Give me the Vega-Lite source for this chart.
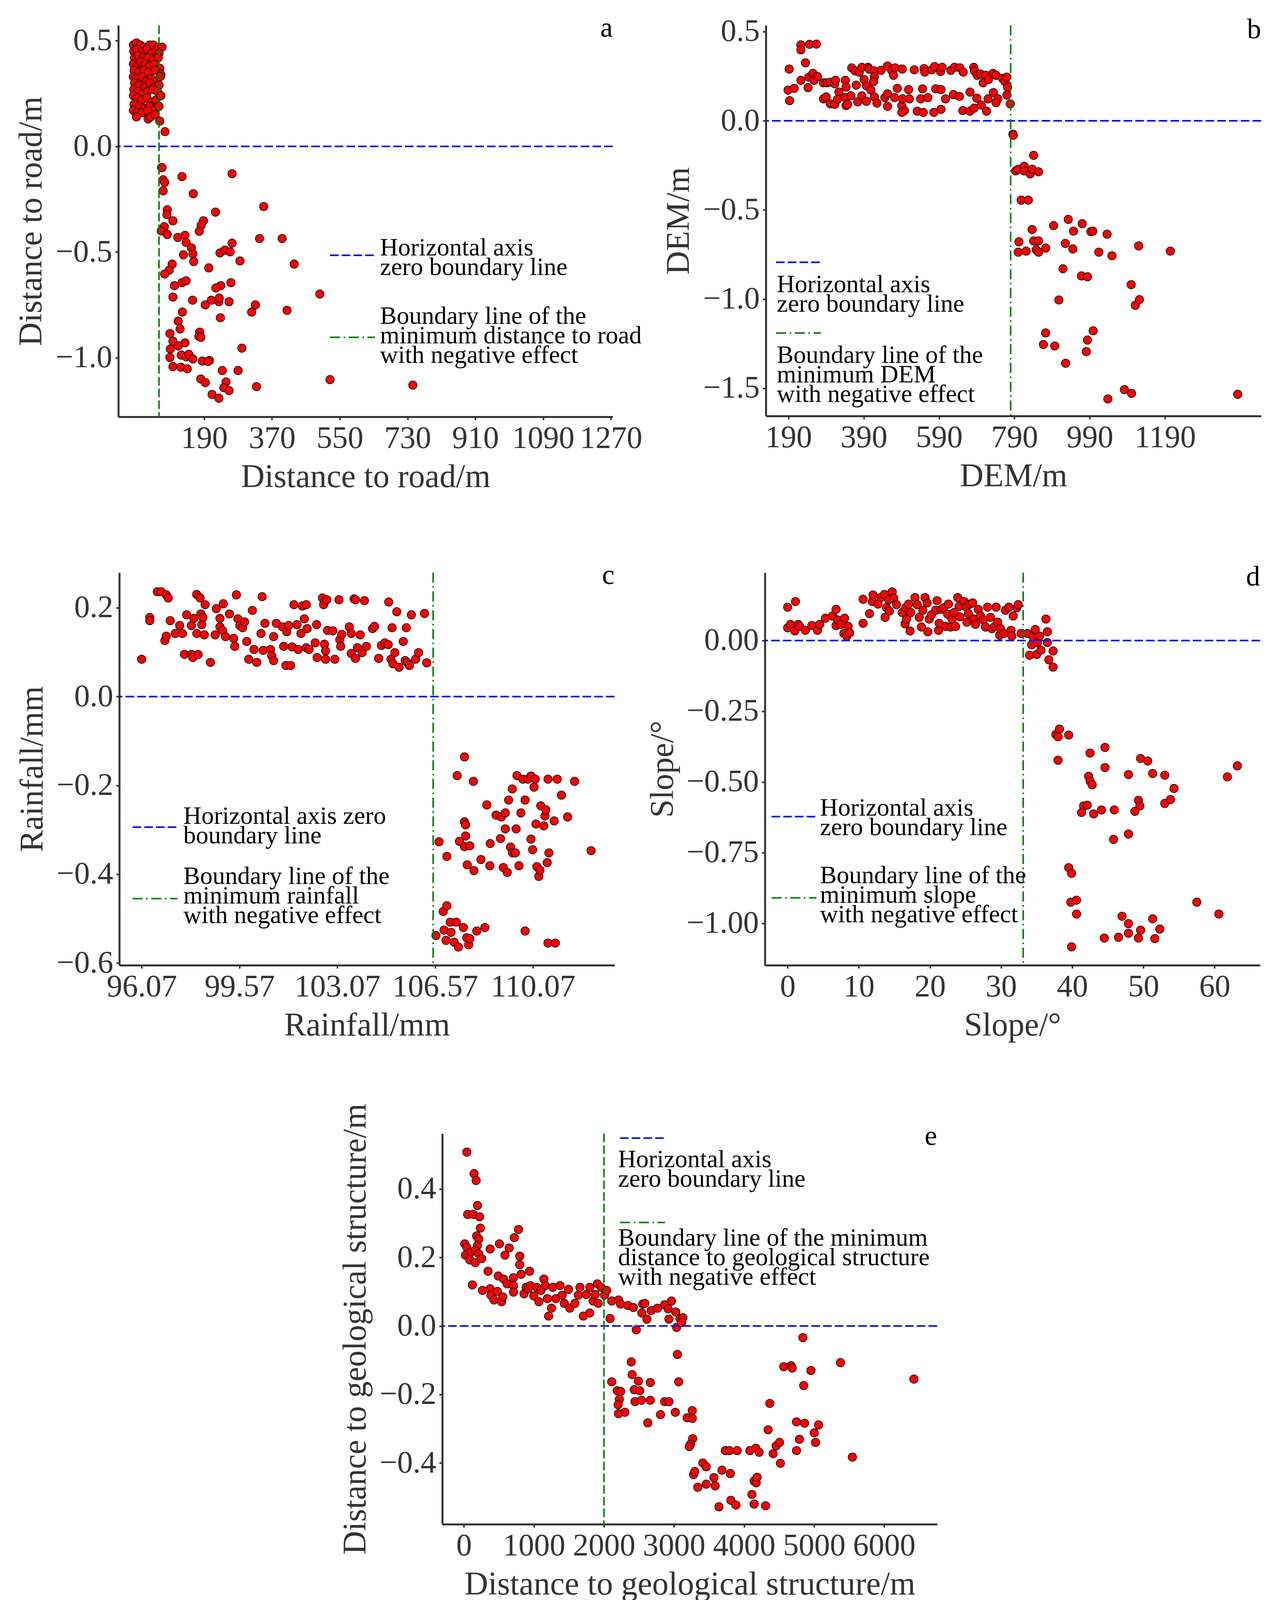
{
  "$schema": "https://vega.github.io/schema/vega-lite/v6.json",
  "background": "white",
  "padding": {"left": 38, "top": 36, "right": 0, "bottom": 0},
  "config": {
    "view": {"stroke": null},
    "font": "Liberation Serif",
    "axis": {
      "grid": false, "domainColor": "#333333", "domainWidth": 5,
      "tickColor": "#333333", "tickWidth": 4, "tickSize": 8,
      "labelFont": "Liberation Serif", "labelFontSize": 80, "labelColor": "#333333", "labelPadding": 8, "labelLimit": 0,
      "labelOverlap": false, "labelFlush": false,
      "titleFont": "Liberation Serif", "titleFontSize": 84, "titleFontWeight": "normal", "titleColor": "#333333", "titlePadding": 18
    },
    "legend": {
      "orient": "none", "padding": 0, "labelFont": "Liberation Serif", "labelFontSize": 64, "labelColor": "#000000",
      "labelLimit": 0, "symbolType": "stroke", "symbolSize": 13225, "symbolStrokeWidth": 4
    },
    "text": {"font": "Liberation Serif", "fontSize": 72, "color": "#000000", "align": "right", "baseline": "alphabetic", "dy": 29},
    "style": {"guide-label": {"lineHeight": 50}},
    "circle": {"size": 460, "fill": "#ff0000", "stroke": "#000000", "strokeWidth": 1.5, "opacity": 1},
    "rule": {"strokeWidth": 4}
  },
  "datasets": {
    "a": [
      {"x":2,"y":0.48},{"x":10,"y":0.49},{"x":20,"y":0.48},{"x":30,"y":0.47},{"x":45,"y":0.48},{"x":55,"y":0.48},{"x":66,"y":0.47},{"x":78,"y":0.47},
      {"x":3,"y":0.45},{"x":12,"y":0.46},{"x":25,"y":0.45},{"x":38,"y":0.46},{"x":50,"y":0.44},{"x":62,"y":0.45},{"x":70,"y":0.44},
      {"x":5,"y":0.42},{"x":15,"y":0.43},{"x":28,"y":0.42},{"x":40,"y":0.42},{"x":55,"y":0.41},{"x":68,"y":0.42},
      {"x":2,"y":0.39},{"x":12,"y":0.38},{"x":22,"y":0.40},{"x":33,"y":0.39},{"x":45,"y":0.38},{"x":58,"y":0.39},{"x":72,"y":0.37},
      {"x":4,"y":0.36},{"x":16,"y":0.35},{"x":30,"y":0.36},{"x":42,"y":0.35},{"x":60,"y":0.36},{"x":75,"y":0.34},
      {"x":2,"y":0.33},{"x":10,"y":0.32},{"x":25,"y":0.33},{"x":37,"y":0.31},{"x":50,"y":0.32},{"x":65,"y":0.31},{"x":73,"y":0.33},
      {"x":5,"y":0.30},{"x":18,"y":0.29},{"x":32,"y":0.28},{"x":46,"y":0.30},{"x":58,"y":0.28},{"x":70,"y":0.29},
      {"x":3,"y":0.27},{"x":14,"y":0.26},{"x":28,"y":0.25},{"x":40,"y":0.26},{"x":54,"y":0.27},{"x":66,"y":0.26},
      {"x":2,"y":0.24},{"x":12,"y":0.23},{"x":25,"y":0.22},{"x":38,"y":0.23},{"x":50,"y":0.21},{"x":62,"y":0.22},{"x":75,"y":0.24},
      {"x":4,"y":0.20},{"x":18,"y":0.19},{"x":30,"y":0.18},{"x":44,"y":0.19},{"x":57,"y":0.17},{"x":70,"y":0.19},
      {"x":2,"y":0.17},{"x":12,"y":0.16},{"x":26,"y":0.16},{"x":40,"y":0.17},
      {"x":10,"y":0.14},{"x":41,"y":0.13},{"x":48,"y":0.14},{"x":60,"y":0.15},{"x":72,"y":0.12},
      {"x":86,"y":0.07},{"x":77,"y":-0.10},
      {"x":78,"y":-0.10},{"x":81,"y":-0.158},{"x":85,"y":-0.17},{"x":81,"y":-0.21},{"x":131,"y":-0.143},{"x":161,"y":-0.224},
      {"x":264,"y":-0.129},{"x":348,"y":-0.285},{"x":220,"y":-0.311},{"x":92,"y":-0.30},{"x":91,"y":-0.323},{"x":188,"y":-0.352},
      {"x":182,"y":-0.373},{"x":177,"y":-0.402},{"x":84,"y":-0.38},{"x":76,"y":-0.40},{"x":92,"y":-0.417},{"x":107,"y":-0.352},
      {"x":120,"y":-0.431},{"x":139,"y":-0.421},{"x":142,"y":-0.455},{"x":156,"y":-0.48},{"x":160,"y":-0.509},{"x":162,"y":-0.545},
      {"x":135,"y":-0.513},{"x":264,"y":-0.458},{"x":232,"y":-0.504},{"x":245,"y":-0.491},{"x":259,"y":-0.499},{"x":285,"y":-0.542},
      {"x":337,"y":-0.436},{"x":397,"y":-0.436},{"x":429,"y":-0.557},{"x":202,"y":-0.575},{"x":105,"y":-0.557},{"x":97,"y":-0.586},
      {"x":85,"y":-0.604},{"x":111,"y":-0.659},{"x":131,"y":-0.645},{"x":142,"y":-0.636},{"x":234,"y":-0.659},{"x":261,"y":-0.645},
      {"x":221,"y":-0.67},{"x":497,"y":-0.699},{"x":107,"y":-0.713},{"x":159,"y":-0.728},{"x":193,"y":-0.75},{"x":209,"y":-0.728},
      {"x":229,"y":-0.735},{"x":256,"y":-0.735},{"x":230,"y":-0.718},{"x":326,"y":-0.75},{"x":316,"y":-0.784},{"x":410,"y":-0.776},
      {"x":132,"y":-0.784},{"x":233,"y":-0.811},{"x":121,"y":-0.827},{"x":126,"y":-0.864},{"x":99,"y":-0.886},{"x":107,"y":-0.922},
      {"x":139,"y":-0.93},{"x":178,"y":-0.879},{"x":176,"y":-0.899},{"x":181,"y":-0.904},{"x":290,"y":-0.955},{"x":121,"y":-0.944},
      {"x":100,"y":-0.959},{"x":99,"y":-0.999},{"x":129,"y":-0.988},{"x":142,"y":-0.996},{"x":149,"y":-0.984},{"x":160,"y":-1.006},
      {"x":185,"y":-1.016},{"x":204,"y":-1.013},{"x":200,"y":-1.018},{"x":107,"y":-1.042},{"x":128,"y":-1.045},{"x":145,"y":-1.053},
      {"x":238,"y":-1.061},{"x":280,"y":-1.061},{"x":181,"y":-1.101},{"x":193,"y":-1.118},{"x":248,"y":-1.115},{"x":242,"y":-1.142},
      {"x":256,"y":-1.156},{"x":211,"y":-1.174},{"x":229,"y":-1.192},{"x":329,"y":-1.137},{"x":524,"y":-1.104},{"x":744,"y":-1.13}
    ],
    "b": [
      {"x":223,"y":0.426},{"x":223,"y":0.398},{"x":246,"y":0.429},{"x":264,"y":0.43},{"x":235,"y":0.325},{"x":192,"y":0.29},
      {"x":358,"y":0.297},{"x":367,"y":0.28},{"x":378,"y":0.273},{"x":385,"y":0.30},{"x":401,"y":0.30},{"x":404,"y":0.29},
      {"x":418,"y":0.28},{"x":418,"y":0.248},{"x":436,"y":0.283},{"x":453,"y":0.307},{"x":464,"y":0.283},{"x":469,"y":0.255},
      {"x":473,"y":0.297},{"x":492,"y":0.29},{"x":524,"y":0.286},{"x":550,"y":0.293},{"x":552,"y":0.273},{"x":571,"y":0.286},
      {"x":578,"y":0.304},{"x":594,"y":0.276},{"x":598,"y":0.30},{"x":621,"y":0.283},{"x":631,"y":0.30},{"x":645,"y":0.297},
      {"x":654,"y":0.273},{"x":682,"y":0.30},{"x":684,"y":0.28},{"x":691,"y":0.255},{"x":700,"y":0.262},{"x":707,"y":0.213},
      {"x":714,"y":0.255},{"x":721,"y":0.231},{"x":733,"y":0.266},{"x":741,"y":0.255},{"x":758,"y":0.238},{"x":765,"y":0.22},
      {"x":770,"y":0.245},{"x":772,"y":0.189},{"x":770,"y":0.144},{"x":779,"y":0.095},{"x":786,"y":-0.075},
      {"x":189,"y":0.172},{"x":205,"y":0.182},{"x":193,"y":0.113},{"x":223,"y":0.227},{"x":242,"y":0.186},{"x":244,"y":0.245},
      {"x":255,"y":0.266},{"x":258,"y":0.227},{"x":267,"y":0.248},{"x":283,"y":0.213},{"x":292,"y":0.213},{"x":301,"y":0.217},
      {"x":313,"y":0.207},{"x":315,"y":0.227},{"x":341,"y":0.227},{"x":343,"y":0.189},{"x":324,"y":0.161},{"x":370,"y":0.20},
      {"x":391,"y":0.231},{"x":397,"y":0.196},{"x":409,"y":0.172},{"x":416,"y":0.22},{"x":283,"y":0.123},{"x":290,"y":0.134},
      {"x":301,"y":0.095},{"x":313,"y":0.092},{"x":320,"y":0.12},{"x":341,"y":0.13},{"x":343,"y":0.085},{"x":347,"y":0.092},
      {"x":356,"y":0.14},{"x":374,"y":0.106},{"x":385,"y":0.14},{"x":397,"y":0.109},{"x":418,"y":0.134},{"x":425,"y":0.099},
      {"x":446,"y":0.13},{"x":453,"y":0.151},{"x":453,"y":0.081},{"x":472,"y":0.13},{"x":479,"y":0.182},{"x":491,"y":0.085},
      {"x":493,"y":0.123},{"x":498,"y":0.057},{"x":491,"y":0.047},{"x":509,"y":0.175},{"x":511,"y":0.123},{"x":532,"y":0.054},
      {"x":541,"y":0.123},{"x":546,"y":0.179},{"x":548,"y":0.047},{"x":560,"y":0.13},{"x":576,"y":0.047},{"x":581,"y":0.179},
      {"x":595,"y":0.175},{"x":595,"y":0.064},{"x":607,"y":0.123},{"x":628,"y":0.147},{"x":644,"y":0.137},{"x":653,"y":0.057},
      {"x":672,"y":0.161},{"x":672,"y":0.054},{"x":683,"y":0.071},{"x":690,"y":0.127},{"x":702,"y":0.088},{"x":716,"y":0.054},
      {"x":720,"y":0.123},{"x":734,"y":0.158},{"x":746,"y":0.123},{"x":741,"y":0.102},
      {"x":787,"y":-0.081},{"x":793,"y":-0.281},{"x":800,"y":-0.272},{"x":816,"y":-0.255},{"x":816,"y":-0.281},{"x":841,"y":-0.194},
      {"x":832,"y":-0.298},{"x":837,"y":-0.272},{"x":854,"y":-0.286},{"x":808,"y":-0.445},{"x":827,"y":-0.445},{"x":837,"y":-0.61},
      {"x":841,"y":-0.674},{"x":854,"y":-0.674},{"x":802,"y":-0.679},{"x":800,"y":-0.737},{"x":821,"y":-0.731},{"x":848,"y":-0.723},
      {"x":854,"y":-0.737},{"x":873,"y":-0.714},{"x":894,"y":-0.588},{"x":933,"y":-0.553},{"x":925,"y":-0.688},{"x":945,"y":-0.719},
      {"x":947,"y":-0.619},{"x":970,"y":-0.577},{"x":993,"y":-0.622},{"x":998,"y":-0.619},{"x":1014,"y":-0.737},{"x":1036,"y":-0.636},
      {"x":1049,"y":-0.757},{"x":1120,"y":-0.702},{"x":1204,"y":-0.731},{"x":919,"y":-0.83},{"x":968,"y":-0.87},{"x":984,"y":-0.875},
      {"x":1100,"y":-0.919},{"x":908,"y":-1.005},{"x":1111,"y":-1.035},{"x":1122,"y":-1.003},{"x":873,"y":-1.19},{"x":867,"y":-1.255},
      {"x":897,"y":-1.263},{"x":999,"y":-1.178},{"x":984,"y":-1.23},{"x":981,"y":-1.295},{"x":926,"y":-1.36},{"x":1038,"y":-1.56},
      {"x":1082,"y":-1.508},{"x":1101,"y":-1.529},{"x":1383,"y":-1.534}
    ],
    "c": [
      {"x":96.07,"y":0.084},{"x":96.36,"y":0.178},{"x":96.36,"y":0.171},{"x":96.63,"y":0.236},{"x":96.77,"y":0.236},{"x":96.95,"y":0.229},
      {"x":97.02,"y":0.222},{"x":97.09,"y":0.171},{"x":96.9,"y":0.126},{"x":96.95,"y":0.136},{"x":97.27,"y":0.142},{"x":97.43,"y":0.16},
      {"x":97.53,"y":0.142},{"x":97.6,"y":0.095},{"x":97.68,"y":0.184},{"x":97.85,"y":0.095},{"x":97.9,"y":0.088},{"x":97.85,"y":0.16},
      {"x":97.94,"y":0.176},{"x":98.04,"y":0.23},{"x":98.04,"y":0.142},{"x":98.09,"y":0.095},{"x":98.16,"y":0.222},{"x":98.19,"y":0.186},
      {"x":98.22,"y":0.162},{"x":98.26,"y":0.178},{"x":98.31,"y":0.139},{"x":98.34,"y":0.207},{"x":98.53,"y":0.077},{"x":98.7,"y":0.139},
      {"x":98.74,"y":0.198},{"x":98.87,"y":0.176},{"x":98.87,"y":0.157},{"x":98.96,"y":0.149},{"x":98.99,"y":0.209},{"x":99.07,"y":0.135},
      {"x":99.21,"y":0.186},{"x":99.36,"y":0.131},{"x":99.4,"y":0.113},{"x":99.46,"y":0.229},{"x":99.51,"y":0.175},{"x":99.58,"y":0.16},
      {"x":99.68,"y":0.155},{"x":99.75,"y":0.168},{"x":99.83,"y":0.124},{"x":99.9,"y":0.084},{"x":100.03,"y":0.194},{"x":100.09,"y":0.106},
      {"x":100.19,"y":0.077},{"x":100.34,"y":0.142},{"x":100.38,"y":0.225},{"x":100.42,"y":0.104},{"x":100.48,"y":0.165},{"x":100.68,"y":0.106},
      {"x":100.72,"y":0.092},{"x":100.79,"y":0.081},{"x":100.79,"y":0.135},{"x":100.89,"y":0.165},{"x":101.11,"y":0.157},{"x":101.15,"y":0.113},
      {"x":101.23,"y":0.07},{"x":101.26,"y":0.146},{"x":101.33,"y":0.16},{"x":101.4,"y":0.07},{"x":101.45,"y":0.112},{"x":101.52,"y":0.207},
      {"x":101.63,"y":0.162},{"x":101.67,"y":0.106},{"x":101.77,"y":0.142},{"x":101.82,"y":0.204},{"x":101.89,"y":0.175},{"x":101.96,"y":0.207},
      {"x":101.96,"y":0.11},{"x":101.99,"y":0.153},{"x":102.06,"y":0.106},{"x":102.33,"y":0.162},{"x":102.28,"y":0.121},{"x":102.35,"y":0.088},
      {"x":102.54,"y":0.222},{"x":102.58,"y":0.207},{"x":102.61,"y":0.118},{"x":102.65,"y":0.103},{"x":102.65,"y":0.084},{"x":102.69,"y":0.218},
      {"x":102.72,"y":0.149},{"x":102.91,"y":0.148},{"x":102.98,"y":0.084},{"x":103.13,"y":0.218},{"x":103.16,"y":0.128},{"x":103.19,"y":0.113},
      {"x":103.23,"y":0.14},{"x":103.5,"y":0.157},{"x":103.57,"y":0.142},{"x":103.57,"y":0.097},{"x":103.67,"y":0.22},{"x":103.72,"y":0.218},
      {"x":103.72,"y":0.086},{"x":103.79,"y":0.11},{"x":103.89,"y":0.139},{"x":103.96,"y":0.099},{"x":104.04,"y":0.216},{"x":104.11,"y":0.113},
      {"x":104.33,"y":0.153},{"x":104.4,"y":0.158},{"x":104.55,"y":0.086},{"x":104.65,"y":0.115},{"x":104.77,"y":0.121},{"x":104.89,"y":0.117},
      {"x":104.91,"y":0.213},{"x":104.99,"y":0.084},{"x":105.03,"y":0.155},{"x":105.06,"y":0.074},{"x":105.13,"y":0.099},{"x":105.2,"y":0.191},
      {"x":105.28,"y":0.066},{"x":105.43,"y":0.124},{"x":105.5,"y":0.081},{"x":105.54,"y":0.155},{"x":105.57,"y":0.077},{"x":105.65,"y":0.07},
      {"x":105.72,"y":0.184},{"x":105.87,"y":0.084},{"x":105.98,"y":0.099},{"x":106.19,"y":0.187},{"x":106.27,"y":0.076},
      {"x":106.6,"y":-0.538},{"x":106.71,"y":-0.327},{"x":106.86,"y":-0.484},{"x":106.99,"y":-0.36},{"x":106.99,"y":-0.471},{"x":106.89,"y":-0.526},
      {"x":106.96,"y":-0.549},{"x":107.11,"y":-0.508},{"x":107.14,"y":-0.531},{"x":107.25,"y":-0.553},{"x":107.33,"y":-0.508},{"x":107.36,"y":-0.178},
      {"x":107.44,"y":-0.326},{"x":107.4,"y":-0.564},{"x":107.58,"y":-0.52},{"x":107.62,"y":-0.136},{"x":107.62,"y":-0.282},{"x":107.66,"y":-0.289},
      {"x":107.66,"y":-0.314},{"x":107.62,"y":-0.338},{"x":107.72,"y":-0.379},{"x":107.7,"y":-0.543},{"x":107.81,"y":-0.336},{"x":107.77,"y":-0.559},
      {"x":107.81,"y":-0.545},{"x":107.94,"y":-0.191},{"x":107.96,"y":-0.392},{"x":108.06,"y":-0.528},{"x":108.21,"y":-0.367},{"x":108.35,"y":-0.52},
      {"x":108.42,"y":-0.244},{"x":108.54,"y":-0.331},{"x":108.53,"y":-0.381},{"x":108.75,"y":-0.267},{"x":108.91,"y":-0.32},{"x":108.94,"y":-0.271},
      {"x":109.01,"y":-0.385},{"x":109.08,"y":-0.262},{"x":109.08,"y":-0.298},{"x":109.15,"y":-0.396},{"x":109.2,"y":-0.233},{"x":109.27,"y":-0.339},
      {"x":109.33,"y":-0.208},{"x":109.34,"y":-0.352},{"x":109.44,"y":-0.352},{"x":109.47,"y":-0.298},{"x":109.5,"y":-0.178},{"x":109.57,"y":-0.381},
      {"x":109.64,"y":-0.262},{"x":109.71,"y":-0.186},{"x":109.79,"y":-0.233},{"x":109.79,"y":-0.528},{"x":109.89,"y":-0.186},{"x":110.0,"y":-0.179},
      {"x":110.0,"y":-0.321},{"x":110.06,"y":-0.345},{"x":110.11,"y":-0.204},{"x":110.15,"y":-0.186},{"x":110.18,"y":-0.287},{"x":110.21,"y":-0.383},
      {"x":110.28,"y":-0.405},{"x":110.32,"y":-0.391},{"x":110.35,"y":-0.246},{"x":110.46,"y":-0.291},{"x":110.5,"y":-0.269},{"x":110.53,"y":-0.255},
      {"x":110.58,"y":-0.374},{"x":110.61,"y":-0.186},{"x":110.64,"y":-0.352},{"x":110.61,"y":-0.555},{"x":110.83,"y":-0.28},{"x":110.87,"y":-0.555},
      {"x":110.94,"y":-0.186},{"x":111.09,"y":-0.222},{"x":111.31,"y":-0.271},{"x":111.56,"y":-0.191},{"x":112.15,"y":-0.347}
    ],
    "d": [
      {"x":0,"y":0.118},{"x":0,"y":0.045},{"x":0.4,"y":0.057},{"x":1,"y":0.034},{"x":1.1,"y":0.138},{"x":1.5,"y":0.057},{"x":1.7,"y":0.05},
      {"x":2.5,"y":0.036},{"x":3.4,"y":0.053},{"x":4.2,"y":0.036},{"x":4.5,"y":0.057},{"x":5.3,"y":0.079},{"x":6.3,"y":0.087},{"x":6.8,"y":0.053},
      {"x":6.8,"y":0.11},{"x":7,"y":0.073},{"x":7.5,"y":0.057},{"x":7.9,"y":0.025},{"x":8,"y":0.079},{"x":8.3,"y":0.016},{"x":8.5,"y":0.05},
      {"x":8.7,"y":0.027},{"x":10.6,"y":0.061},{"x":10.6,"y":0.146},{"x":11.5,"y":0.095},{"x":11.9,"y":0.138},{"x":12,"y":0.161},{"x":12.7,"y":0.129},
      {"x":13.1,"y":0.152},{"x":13.6,"y":0.163},{"x":13.7,"y":0.082},{"x":13.9,"y":0.116},{"x":14.2,"y":0.144},{"x":14.3,"y":0.104},{"x":14.7,"y":0.172},
      {"x":14.9,"y":0.15},{"x":15.3,"y":0.127},{"x":16.1,"y":0.099},{"x":16.5,"y":0.059},{"x":16.6,"y":0.116},{"x":16.7,"y":0.076},{"x":17,"y":0.129},
      {"x":17.2,"y":0.034},{"x":17.3,"y":0.099},{"x":17.9,"y":0.152},{"x":18.2,"y":0.127},{"x":18.5,"y":0.082},{"x":18.8,"y":0.048},{"x":19,"y":0.107},
      {"x":19.3,"y":0.152},{"x":19.6,"y":0.133},{"x":19.7,"y":0.031},{"x":19.9,"y":0.076},{"x":20.2,"y":0.091},{"x":20.8,"y":0.107},{"x":21,"y":0.141},
      {"x":21.2,"y":0.036},{"x":21.3,"y":0.061},{"x":21.6,"y":0.11},{"x":21.9,"y":0.116},{"x":22.2,"y":0.05},{"x":22.5,"y":0.093},{"x":22.6,"y":0.129},
      {"x":22.9,"y":0.048},{"x":23.1,"y":0.076},{"x":23.4,"y":0.099},{"x":23.6,"y":0.05},{"x":23.9,"y":0.152},{"x":24.1,"y":0.121},{"x":24.2,"y":0.084},
      {"x":24.8,"y":0.138},{"x":25.1,"y":0.118},{"x":25.2,"y":0.065},{"x":25.4,"y":0.095},{"x":25.6,"y":0.129},{"x":26,"y":0.133},{"x":26.2,"y":0.076},
      {"x":26.4,"y":0.057},{"x":26.8,"y":0.11},{"x":27.1,"y":0.087},{"x":27.5,"y":0.073},{"x":27.8,"y":0.048},{"x":28.1,"y":0.118},{"x":28.5,"y":0.082},
      {"x":28.7,"y":0.042},{"x":29.1,"y":0.05},{"x":29.3,"y":0.118},{"x":29.5,"y":0.065},{"x":29.8,"y":0.019},{"x":29.9,"y":0.042},{"x":30.4,"y":0.025},
      {"x":30.6,"y":0.107},{"x":31.1,"y":0.118},{"x":31.4,"y":0.036},{"x":31.5,"y":0.016},{"x":31.7,"y":0.087},{"x":32.2,"y":0.116},{"x":32.4,"y":0.127},
      {"x":32.8,"y":0.025},{"x":33.7,"y":0.025},{"x":34,"y":-0.052},{"x":34.3,"y":-0.015},{"x":34.5,"y":0.014},{"x":34.8,"y":0.039},{"x":35,"y":-0.049},
      {"x":35.1,"y":-0.007},{"x":35.4,"y":0.016},{"x":35.6,"y":-0.034},{"x":36.3,"y":0.076},{"x":36.5,"y":0.031},{"x":36.5,"y":-0.007},{"x":36.7,"y":-0.068},
      {"x":37.3,"y":-0.037},{"x":37.3,"y":-0.094},
      {"x":37.7,"y":-0.332},{"x":38,"y":-0.34},{"x":38.2,"y":-0.313},{"x":38,"y":-0.423},{"x":39.5,"y":-0.334},{"x":39.5,"y":-0.803},{"x":39.9,"y":-0.823},
      {"x":39.8,"y":-0.925},{"x":40.6,"y":-0.918},{"x":40.6,"y":-0.967},{"x":39.9,"y":-1.083},{"x":42.5,"y":-0.398},{"x":42.3,"y":-0.48},{"x":42.5,"y":-0.497},
      {"x":42.8,"y":-0.51},{"x":41.6,"y":-0.585},{"x":42.1,"y":-0.582},{"x":41.3,"y":-0.608},{"x":43,"y":-0.613},{"x":44.1,"y":-0.599},{"x":44.6,"y":-0.378},
      {"x":44.6,"y":-0.449},{"x":45.9,"y":-0.599},{"x":45.8,"y":-0.703},{"x":47.9,"y":-0.474},{"x":47.9,"y":-0.684},{"x":48.8,"y":-0.604},{"x":49.3,"y":-0.565},
      {"x":49.5,"y":-0.585},{"x":49.6,"y":-0.417},{"x":50.6,"y":-0.426},{"x":51.3,"y":-0.47},{"x":53,"y":-0.476},{"x":53,"y":-0.576},{"x":53.8,"y":-0.562},
      {"x":54.3,"y":-0.523},{"x":61.8,"y":-0.482},{"x":63.2,"y":-0.443},{"x":44.5,"y":-1.052},{"x":46.5,"y":-1.049},{"x":47,"y":-0.975},{"x":47.9,"y":-1.001},
      {"x":47.9,"y":-1.035},{"x":49.3,"y":-1.052},{"x":49.6,"y":-1.024},{"x":51.3,"y":-0.984},{"x":51.6,"y":-1.054},{"x":52.3,"y":-1.02},{"x":57.5,"y":-0.925},
      {"x":60.6,"y":-0.967}
    ],
    "e": [
      {"x":42,"y":0.508},{"x":145,"y":0.445},{"x":175,"y":0.425},{"x":194,"y":0.352},{"x":54,"y":0.326},{"x":133,"y":0.326},{"x":224,"y":0.319},
      {"x":236,"y":0.286},{"x":182,"y":0.263},{"x":212,"y":0.254},{"x":12,"y":0.24},{"x":42,"y":0.23},{"x":194,"y":0.235},{"x":24,"y":0.207},
      {"x":103,"y":0.216},{"x":163,"y":0.221},{"x":212,"y":0.211},{"x":85,"y":0.193},{"x":163,"y":0.185},{"x":254,"y":0.197},{"x":121,"y":0.12},
      {"x":266,"y":0.104},{"x":345,"y":0.16},{"x":375,"y":0.225},{"x":375,"y":0.109},{"x":387,"y":0.09},{"x":430,"y":0.076},{"x":478,"y":0.101},
      {"x":490,"y":0.146},{"x":508,"y":0.24},{"x":538,"y":0.071},{"x":556,"y":0.085},{"x":568,"y":0.137},{"x":587,"y":0.207},{"x":617,"y":0.123},
      {"x":647,"y":0.228},{"x":708,"y":0.141},{"x":708,"y":0.118},{"x":708,"y":0.099},{"x":720,"y":0.258},{"x":780,"y":0.282},{"x":798,"y":0.204},
      {"x":798,"y":0.179},{"x":817,"y":0.151},{"x":859,"y":0.094},{"x":889,"y":0.113},{"x":919,"y":0.109},{"x":938,"y":0.16},{"x":950,"y":0.118},
      {"x":998,"y":0.088},{"x":1041,"y":0.113},{"x":1071,"y":0.071},{"x":1101,"y":0.104},{"x":1143,"y":0.137},{"x":1162,"y":0.118},{"x":1192,"y":0.08},
      {"x":1210,"y":0.029},{"x":1252,"y":0.052},{"x":1270,"y":0.113},{"x":1313,"y":0.08},{"x":1373,"y":0.118},{"x":1403,"y":0.09},{"x":1434,"y":0.066},
      {"x":1494,"y":0.107},{"x":1512,"y":0.052},{"x":1585,"y":0.066},{"x":1633,"y":0.09},{"x":1657,"y":0.113},{"x":1706,"y":0.029},{"x":1748,"y":0.092},
      {"x":1797,"y":0.038},{"x":1797,"y":0.113},{"x":1845,"y":0.073},{"x":1875,"y":0.092},{"x":1906,"y":0.123},{"x":1918,"y":0.066},{"x":1960,"y":0.113},
      {"x":2008,"y":0.09},{"x":2039,"y":0.104},{"x":2087,"y":0.022},{"x":2111,"y":0.073},{"x":2208,"y":0.076},{"x":2238,"y":0.064},{"x":2341,"y":0.06},
      {"x":2420,"y":0.054},{"x":2462,"y":-0.011},{"x":2541,"y":0.038},{"x":2553,"y":0.064},{"x":2583,"y":0.066},{"x":2613,"y":0.02},{"x":2674,"y":0.045},
      {"x":2765,"y":0.052},{"x":2867,"y":0.062},{"x":2916,"y":0.05},{"x":2928,"y":0.02},{"x":2964,"y":0.073},{"x":3025,"y":0.041},{"x":3037,"y":-0.004},
      {"x":3085,"y":0.022},{"x":3128,"y":0.024},{"x":3110,"y":0.01},
      {"x":2111,"y":-0.163},{"x":2190,"y":-0.189},{"x":2220,"y":-0.214},{"x":2202,"y":-0.23},{"x":2238,"y":-0.191},{"x":2208,"y":-0.256},{"x":2299,"y":-0.252},
      {"x":2390,"y":-0.105},{"x":2402,"y":-0.142},{"x":2432,"y":-0.186},{"x":2444,"y":-0.221},{"x":2492,"y":-0.161},{"x":2511,"y":-0.189},{"x":2535,"y":-0.217},
      {"x":2626,"y":-0.283},{"x":2662,"y":-0.217},{"x":2662,"y":-0.165},{"x":2807,"y":-0.259},{"x":2867,"y":-0.221},{"x":2928,"y":-0.221},{"x":3019,"y":-0.252},
      {"x":3049,"y":-0.083},{"x":3067,"y":-0.163},{"x":3188,"y":-0.268},{"x":3261,"y":-0.247},{"x":3261,"y":-0.27},{"x":3267,"y":-0.329},{"x":3237,"y":-0.345},
      {"x":3219,"y":-0.352},{"x":3279,"y":-0.434},{"x":3297,"y":-0.425},{"x":3340,"y":-0.471},{"x":3412,"y":-0.4},{"x":3460,"y":-0.411},{"x":3460,"y":-0.462},
      {"x":3570,"y":-0.443},{"x":3588,"y":-0.467},{"x":3642,"y":-0.528},{"x":3685,"y":-0.421},{"x":3733,"y":-0.364},{"x":3793,"y":-0.364},{"x":3805,"y":-0.431},
      {"x":3812,"y":-0.509},{"x":3884,"y":-0.523},{"x":3902,"y":-0.364},{"x":4083,"y":-0.364},{"x":4113,"y":-0.492},{"x":4144,"y":-0.453},{"x":4174,"y":-0.458},
      {"x":4186,"y":-0.442},{"x":4144,"y":-0.52},{"x":4168,"y":-0.357},{"x":4216,"y":-0.369},{"x":4307,"y":-0.525},{"x":4368,"y":-0.226},{"x":4344,"y":-0.303},
      {"x":4416,"y":-0.373},{"x":4458,"y":-0.35},{"x":4507,"y":-0.34},{"x":4519,"y":-0.401},{"x":4567,"y":-0.119},{"x":4670,"y":-0.116},{"x":4688,"y":-0.123},
      {"x":4749,"y":-0.28},{"x":4749,"y":-0.364},{"x":4791,"y":-0.331},{"x":4840,"y":-0.034},{"x":4852,"y":-0.174},{"x":4864,"y":-0.284},{"x":4955,"y":-0.13},
      {"x":5003,"y":-0.312},{"x":5021,"y":-0.34},{"x":5064,"y":-0.289},{"x":5378,"y":-0.107},{"x":5547,"y":-0.383},{"x":6425,"y":-0.155}
    ]
  },
  "vconcat": [
    {
      "vconcat": [
        {
          "hconcat": [
            {
              "width": 1266, "height": 1002,
              "layer": [
                {"data": {"name": "a"}, "mark": "circle",
                 "encoding": {
                   "x": {"field": "x", "type": "quantitative", "title": "Distance to road/m", "scale": {"domain": [-38, 1275], "nice": false, "zero": false}, "axis": {"values": [190, 370, 550, 730, 910, 1090, 1270], "format": "d"}},
                   "y": {"field": "y", "type": "quantitative", "title": "Distance to road/m", "scale": {"domain": [-1.28, 0.573], "nice": false, "zero": false}, "axis": {"values": [-1, -0.5, 0, 0.5], "format": ".1f"}}}},
                {"data": {"values": [{"line": "a0", "lab": "ta0", "y": 0}]}, "mark": "rule",
                 "encoding": {
                   "y": {"field": "y", "type": "quantitative", "title": "Distance to road/m"},
                   "color": {"field": "line", "type": "nominal", "scale": {"domain": ["a0", "a1"], "range": ["#0000ff", "#008000"]},
                     "legend": {"title": null, "legendX": 540, "legendY": 529, "labelExpr": "' '", "rowPadding": 118}},
                   "strokeDash": {"field": "line", "type": "nominal", "scale": {"domain": ["a0", "a1"], "range": [[22, 8], [26, 9, 4, 9]]},
                     "legend": {"title": null, "legendX": 540, "legendY": 529, "labelExpr": "' '", "rowPadding": 118}},
                   "opacity": {"field": "lab", "type": "ordinal", "scale": {"domain": ["ta0", "ta1"], "range": [1, 1]},
                     "legend": {"title": null, "legendX": 606, "legendY": 538, "rowPadding": 61, "labelOffset": 0, "symbolSize": 0, "symbolStrokeWidth": 0, "symbolOpacity": 0,
                       "labelExpr": "datum.value == 'ta0' ? ['Horizontal axis', 'zero boundary line'] : ['Boundary line of the', 'minimum distance to road', 'with negative effect']"}}}},
                {"data": {"values": [{"line": "a1", "x": 70}]}, "mark": {"type": "rule", "strokeDash": [22, 8]},
                 "encoding": {
                   "x": {"field": "x", "type": "quantitative", "title": "Distance to road/m"},
                   "color": {"field": "line", "type": "nominal"}}},
                {"data": {"values": [{"panel": "a"}]}, "mark": "text",
                 "encoding": {"x": {"datum": 1275, "type": "quantitative"}, "y": {"datum": 0.573, "type": "quantitative"}, "text": {"field": "panel"}}}
              ]
            },
            {
              "width": 1268, "height": 1000,
              "layer": [
                {"data": {"name": "b"}, "mark": "circle",
                 "encoding": {
                   "x": {"field": "x", "type": "quantitative", "title": "DEM/m", "scale": {"domain": [130, 1445], "nice": false, "zero": false}, "axis": {"values": [190, 390, 590, 790, 990, 1190], "format": "d"}},
                   "y": {"field": "y", "type": "quantitative", "title": "DEM/m", "scale": {"domain": [-1.656, 0.535], "nice": false, "zero": false}, "axis": {"values": [-1.5, -1, -0.5, 0, 0.5], "format": ".1f"}}}},
                {"data": {"values": [{"line": "b0", "lab": "tb0", "y": 0}]}, "mark": "rule",
                 "encoding": {
                   "y": {"field": "y", "type": "quantitative", "title": "DEM/m"},
                   "color": {"field": "line", "type": "nominal", "scale": {"domain": ["b0", "b1"], "range": ["#0000ff", "#008000"]},
                     "legend": {"title": null, "legendX": 24, "legendY": 547, "labelExpr": "' '", "rowPadding": 89}},
                   "strokeDash": {"field": "line", "type": "nominal", "scale": {"domain": ["b0", "b1"], "range": [[22, 8], [26, 9, 4, 9]]},
                     "legend": {"title": null, "legendX": 24, "legendY": 547, "labelExpr": "' '", "rowPadding": 89}},
                   "opacity": {"field": "lab", "type": "ordinal", "scale": {"domain": ["tb0", "tb1"], "range": [1, 1]},
                     "legend": {"title": null, "legendX": -36, "legendY": 632, "rowPadding": 67, "labelOffset": 0, "symbolSize": 0, "symbolStrokeWidth": 0, "symbolOpacity": 0,
                       "labelExpr": "datum.value == 'tb0' ? ['Horizontal axis', 'zero boundary line'] : ['Boundary line of the', 'minimum DEM', 'with negative effect']"}}}},
                {"data": {"values": [{"line": "b1", "x": 780}]}, "mark": {"type": "rule", "strokeDash": [26, 9, 4, 9]},
                 "encoding": {
                   "x": {"field": "x", "type": "quantitative", "title": "DEM/m"},
                   "color": {"field": "line", "type": "nominal"}}},
                {"data": {"values": [{"panel": "b"}]}, "mark": {"type": "text", "dy": 33},
                 "encoding": {"x": {"datum": 1445, "type": "quantitative"}, "y": {"datum": 0.535, "type": "quantitative"}, "text": {"field": "panel"}}}
              ]
            }
          ],
          "spacing": 51,
          "resolve": {"scale": {"color": "independent", "strokeDash": "independent", "opacity": "independent"}, "legend": {"color": "independent", "strokeDash": "independent", "opacity": "independent"}}
        },
        {
          "hconcat": [
            {
              "width": 1268, "height": 1005,
              "layer": [
                {"data": {"name": "c"}, "mark": "circle",
                 "encoding": {
                   "x": {"field": "x", "type": "quantitative", "title": "Rainfall/mm", "scale": {"domain": [95.27, 112.99], "nice": false, "zero": false}, "axis": {"values": [96.07, 99.57, 103.07, 106.57, 110.07], "format": ".2f"}},
                   "y": {"field": "y", "type": "quantitative", "title": "Rainfall/mm", "scale": {"domain": [-0.605, 0.279], "nice": false, "zero": false}, "axis": {"values": [-0.6, -0.4, -0.2, 0, 0.2], "format": ".1f"}}}},
                {"data": {"values": [{"line": "c0", "lab": "tc0", "y": 0}]}, "mark": "rule",
                 "encoding": {
                   "y": {"field": "y", "type": "quantitative", "title": "Rainfall/mm"},
                   "color": {"field": "line", "type": "nominal", "scale": {"domain": ["c0", "c1"], "range": ["#0000ff", "#008000"]},
                     "legend": {"title": null, "legendX": 32, "legendY": 592, "labelExpr": "' '", "rowPadding": 91}},
                   "strokeDash": {"field": "line", "type": "nominal", "scale": {"domain": ["c0", "c1"], "range": [[22, 8], [26, 9, 4, 9]]},
                     "legend": {"title": null, "legendX": 32, "legendY": 592, "labelExpr": "' '", "rowPadding": 91}},
                   "opacity": {"field": "lab", "type": "ordinal", "scale": {"domain": ["tc0", "tc1"], "range": [1, 1]},
                     "legend": {"title": null, "legendX": 100, "legendY": 592, "rowPadding": 40, "labelOffset": 0, "symbolSize": 0, "symbolStrokeWidth": 0, "symbolOpacity": 0,
                       "labelExpr": "datum.value == 'tc0' ? ['Horizontal axis zero', 'boundary line'] : ['Boundary line of the', 'minimum rainfall', 'with negative effect']"}}}},
                {"data": {"values": [{"line": "c1", "x": 106.5}]}, "mark": {"type": "rule", "strokeDash": [26, 9, 4, 9]},
                 "encoding": {
                   "x": {"field": "x", "type": "quantitative", "title": "Rainfall/mm"},
                   "color": {"field": "line", "type": "nominal"}}},
                {"data": {"values": [{"panel": "c"}]}, "mark": "text",
                 "encoding": {"x": {"datum": 112.99, "type": "quantitative"}, "y": {"datum": 0.279, "type": "quantitative"}, "text": {"field": "panel"}}}
              ]
            },
            {
              "width": 1268, "height": 1005,
              "layer": [
                {"data": {"name": "d"}, "mark": "circle",
                 "encoding": {
                   "x": {"field": "x", "type": "quantitative", "title": "Slope/°", "scale": {"domain": [-3.2, 66.4], "nice": false, "zero": false}, "axis": {"values": [0, 10, 20, 30, 40, 50, 60], "format": "d"}},
                   "y": {"field": "y", "type": "quantitative", "title": "Slope/°", "scale": {"domain": [-1.148, 0.24], "nice": false, "zero": false}, "axis": {"values": [-1, -0.75, -0.5, -0.25, 0], "format": ".2f"}}}},
                {"data": {"values": [{"line": "d0", "lab": "td0", "y": 0}]}, "mark": "rule",
                 "encoding": {
                   "y": {"field": "y", "type": "quantitative", "title": "Slope/°"},
                   "color": {"field": "line", "type": "nominal", "scale": {"domain": ["d0", "d1"], "range": ["#0000ff", "#008000"]},
                     "legend": {"title": null, "legendX": 15, "legendY": 565, "labelExpr": "' '", "rowPadding": 116}},
                   "strokeDash": {"field": "line", "type": "nominal", "scale": {"domain": ["d0", "d1"], "range": [[22, 8], [26, 9, 4, 9]]},
                     "legend": {"title": null, "legendX": 15, "legendY": 565, "labelExpr": "' '", "rowPadding": 116}},
                   "opacity": {"field": "lab", "type": "ordinal", "scale": {"domain": ["td0", "td1"], "range": [1, 1]},
                     "legend": {"title": null, "legendX": 77, "legendY": 571, "rowPadding": 59, "labelOffset": 0, "symbolSize": 0, "symbolStrokeWidth": 0, "symbolOpacity": 0,
                       "labelExpr": "datum.value == 'td0' ? ['Horizontal axis', 'zero boundary line'] : ['Boundary line of the', 'minimum slope', 'with negative effect']"}}}},
                {"data": {"values": [{"line": "d1", "x": 33.1}]}, "mark": {"type": "rule", "strokeDash": [26, 9, 4, 9]},
                 "encoding": {
                   "x": {"field": "x", "type": "quantitative", "title": "Slope/°"},
                   "color": {"field": "line", "type": "nominal"}}},
                {"data": {"values": [{"panel": "d"}]}, "mark": {"type": "text", "dy": 33},
                 "encoding": {"x": {"datum": 66.4, "type": "quantitative"}, "y": {"datum": 0.24, "type": "quantitative"}, "text": {"field": "panel"}}}
              ]
            }
          ],
          "spacing": 80,
          "resolve": {"scale": {"color": "independent", "strokeDash": "independent", "opacity": "independent"}, "legend": {"color": "independent", "strokeDash": "independent", "opacity": "independent"}}
        }
      ],
      "spacing": 174,
      "center": true,
      "resolve": {"scale": {"color": "independent", "strokeDash": "independent", "opacity": "independent"}, "legend": {"color": "independent", "strokeDash": "independent", "opacity": "independent"}}
    },
    {
      "width": 1267, "height": 1000,
      "layer": [
        {"data": {"name": "e"}, "mark": "circle",
         "encoding": {
           "x": {"field": "x", "type": "quantitative", "title": "Distance to geological structure/m", "scale": {"domain": [-308, 6757], "nice": false, "zero": false}, "axis": {"values": [0, 1000, 2000, 3000, 4000, 5000, 6000], "format": "d"}},
           "y": {"field": "y", "type": "quantitative", "title": "Distance to geological structure/m", "scale": {"domain": [-0.579, 0.562], "nice": false, "zero": false}, "axis": {"values": [-0.4, -0.2, 0, 0.2, 0.4], "format": ".1f"}}}},
        {"data": {"values": [{"line": "e0", "lab": "te0", "y": 0}]}, "mark": "rule",
         "encoding": {
           "y": {"field": "y", "type": "quantitative", "title": "Distance to geological structure/m"},
           "color": {"field": "line", "type": "nominal", "scale": {"domain": ["e0", "e1"], "range": ["#0000ff", "#008000"]},
             "legend": {"title": null, "legendX": 453, "legendY": -48, "labelExpr": "' '", "rowPadding": 124}},
           "strokeDash": {"field": "line", "type": "nominal", "scale": {"domain": ["e0", "e1"], "range": [[22, 8], [26, 9, 4, 9]]},
             "legend": {"title": null, "legendX": 453, "legendY": -48, "labelExpr": "' '", "rowPadding": 124}},
           "opacity": {"field": "lab", "type": "ordinal", "scale": {"domain": ["te0", "te1"], "range": [1, 1]},
             "legend": {"title": null, "legendX": 386, "legendY": 35, "rowPadding": 87, "labelOffset": 0, "symbolSize": 0, "symbolStrokeWidth": 0, "symbolOpacity": 0,
               "labelExpr": "datum.value == 'te0' ? ['Horizontal axis', 'zero boundary line'] : ['Boundary line of the minimum', 'distance to geological structure', 'with negative effect']"}}}},
        {"data": {"values": [{"line": "e1", "x": 2000}]}, "mark": {"type": "rule", "strokeDash": [22, 8]},
         "encoding": {
           "x": {"field": "x", "type": "quantitative", "title": "Distance to geological structure/m"},
           "color": {"field": "line", "type": "nominal"}}},
        {"data": {"values": [{"panel": "e"}]}, "mark": "text",
         "encoding": {"x": {"datum": 6757, "type": "quantitative"}, "y": {"datum": 0.562, "type": "quantitative"}, "text": {"field": "panel"}}}
      ]
    }
  ],
  "spacing": 157,
  "center": true,
  "resolve": {"scale": {"color": "independent", "strokeDash": "independent", "opacity": "independent"}, "legend": {"color": "independent", "strokeDash": "independent", "opacity": "independent"}}
}
